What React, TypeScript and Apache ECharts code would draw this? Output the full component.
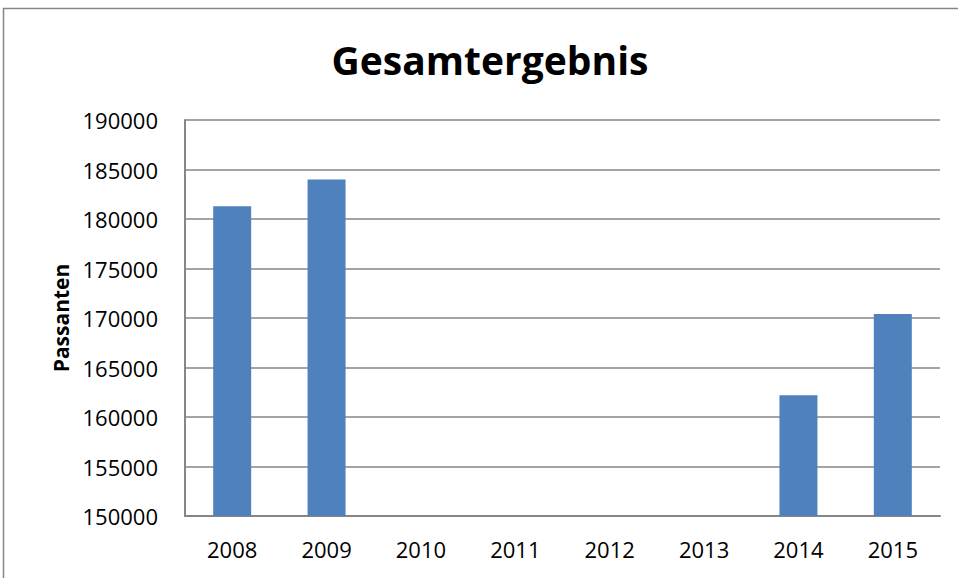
import React, { useEffect, useRef } from "react";
import * as echarts from "echarts";

const title = "Gesamtergebnis";
const yAxisName = "Passanten";
const categories = ["2008", "2009", "2010", "2011", "2012", "2013", "2014", "2015"];
const passanten: (number | null)[] = [181300, 184000, null, null, null, null, 162200, 170400];
const yMin = 150000;
const yMax = 190000;
const yInterval = 5000;

export default function App() {
  const ref = useRef<HTMLDivElement>(null);
  useEffect(() => {
    if (!ref.current) return;
    const chart = echarts.init(ref.current, null, { renderer: "svg" });
    const font = "'Open Sans', 'Noto Sans', sans-serif";
    chart.setOption({
      animation: false,
      backgroundColor: "#ffffff",
      textStyle: { fontFamily: font },
      graphic: [
        {
          type: "rect",
          shape: { x: 3.5, y: 8.5, width: 1000, height: 700 },
          style: { fill: "none", stroke: "#868686", lineWidth: 1.5 },
          silent: true,
        },
        {
          type: "text",
          x: 490,
          y: 59,
          style: {
            text: title,
            fontFamily: font,
            fontWeight: "bold",
            fontSize: 39,
            fill: "#000000",
            textAlign: "center",
            textVerticalAlign: "middle",
          },
        },
      ],
      grid: { left: 185, right: 18, top: 120, bottom: 62, containLabel: false },
      xAxis: {
        type: "category",
        data: categories,
        axisLine: { show: true, lineStyle: { color: "#868686", width: 2 } },
        axisTick: { show: false },
        axisLabel: { color: "#000000", fontSize: 22, margin: 22, fontFamily: font },
      },
      yAxis: {
        type: "value",
        min: yMin,
        max: yMax,
        interval: yInterval,
        name: yAxisName,
        nameLocation: "middle",
        nameGap: 110,
        nameRotate: 90,
        nameTextStyle: { color: "#000000", fontSize: 21, fontWeight: "bold", fontFamily: font },
        axisLine: { show: true, lineStyle: { color: "#868686", width: 2 } },
        axisTick: { show: false },
        axisLabel: {
          color: "#000000",
          fontSize: 22,
          margin: 27,
          fontFamily: font,
          formatter: (v: number) => String(v),
        },
        splitLine: { show: true, lineStyle: { color: "#868686", width: 1.5 } },
      },
      series: [
        {
          type: "bar",
          data: passanten,
          barWidth: 38,
          itemStyle: { color: "#4F81BD" },
        },
      ],
    });
    return () => chart.dispose();
  }, []);
  return (
    <div
      ref={ref}
      style={{ position: "fixed", left: 0, top: 0, width: 958, height: 578 }}
    />
  );
}
